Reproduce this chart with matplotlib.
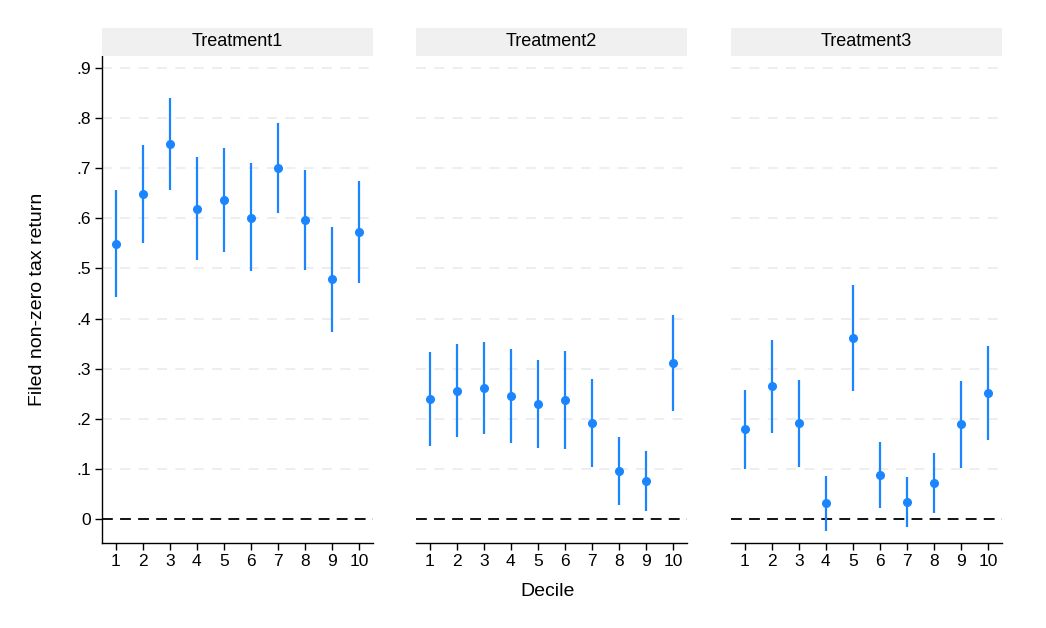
import numpy as np
import matplotlib.pyplot as plt
from matplotlib.patches import Rectangle

plt.rcParams['font.family'] = ['Liberation Sans', 'DejaVu Sans']

deciles = np.arange(1, 11)
panels = ['Treatment1', 'Treatment2', 'Treatment3']

t1_est = [0.549, 0.649, 0.749, 0.619, 0.636, 0.601, 0.701, 0.597, 0.478, 0.572]
t1_lo = [0.443, 0.551, 0.657, 0.516, 0.532, 0.494, 0.611, 0.496, 0.374, 0.470]
t1_hi = [0.657, 0.747, 0.840, 0.722, 0.740, 0.710, 0.791, 0.697, 0.583, 0.675]

t2_est = [0.240, 0.256, 0.261, 0.245, 0.229, 0.238, 0.192, 0.096, 0.076, 0.311]
t2_lo = [0.145, 0.163, 0.169, 0.151, 0.141, 0.139, 0.103, 0.027, 0.015, 0.216]
t2_hi = [0.334, 0.350, 0.354, 0.339, 0.317, 0.335, 0.279, 0.164, 0.136, 0.407]

t3_est = [0.179, 0.265, 0.192, 0.031, 0.361, 0.088, 0.033, 0.072, 0.189, 0.251]
t3_lo = [0.100, 0.171, 0.104, -0.025, 0.255, 0.022, -0.017, 0.011, 0.102, 0.158]
t3_hi = [0.257, 0.358, 0.277, 0.086, 0.467, 0.154, 0.083, 0.132, 0.276, 0.345]

estimates = [t1_est, t2_est, t3_est]
lows = [t1_lo, t2_lo, t3_lo]
highs = [t1_hi, t2_hi, t3_hi]

yticks = [0, 0.1, 0.2, 0.3, 0.4, 0.5, 0.6, 0.7, 0.8, 0.9]
ytick_labels = ['0', '.1', '.2', '.3', '.4', '.5', '.6', '.7', '.8', '.9']

blue = '#1a85ff'
W, H = 1046, 628
fig = plt.figure(figsize=(W / 100, H / 100), dpi=100)

lefts = [102, 416, 731]
pw = 271
top, bottom = 56, 543
strip_h = 28

for i, name in enumerate(panels):
    ax = fig.add_axes([lefts[i] / W, 1 - bottom / H, pw / W, (bottom - top) / H])
    est = np.array(estimates[i])
    lo = np.array(lows[i])
    hi = np.array(highs[i])
    for y in yticks[1:]:
        ax.axhline(y, color='#ebebeb', lw=1.2, ls=(0, (6, 5)), zorder=0)
    ax.axhline(0, color='black', lw=1.3, ls=(0, (6, 4)), zorder=1)
    ax.vlines(deciles, lo, hi, color=blue, lw=1.6, zorder=2)
    ax.plot(deciles, est, 'o', color=blue, ms=5.5, zorder=3)
    ax.set_xlim(0.5, 10.5)
    ax.set_ylim(-0.048, 0.924)
    ax.set_xticks(deciles)
    ax.set_xticklabels([str(d) for d in deciles], fontsize=12.5)
    ax.tick_params(axis='x', length=5, width=1, direction='out', pad=3)
    for s in ['top', 'right']:
        ax.spines[s].set_visible(False)
    ax.spines['bottom'].set_linewidth(1)
    if i == 0:
        ax.set_yticks(yticks)
        ax.set_yticklabels(ytick_labels, fontsize=12.5)
        ax.tick_params(axis='y', length=5, width=1, direction='out', pad=3)
        ax.spines['left'].set_linewidth(1)
        ax.set_ylabel('Filed non-zero tax return', fontsize=14, labelpad=22)
    else:
        ax.set_yticks([])
        ax.spines['left'].set_visible(False)
    # header strip
    fig.patches.append(Rectangle((lefts[i] / W, 1 - top / H), pw / W, strip_h / H,
                                 transform=fig.transFigure, facecolor='#f0f0f0',
                                 edgecolor='none'))
    fig.text((lefts[i] + pw / 2) / W, 1 - (top - strip_h / 2) / H, name,
             ha='center', va='center', fontsize=13)

fig.text(548 / W, 1 - 592 / H, 'Decile', ha='center', va='center', fontsize=14)

fig.savefig('out.png', dpi=100, facecolor='white')
